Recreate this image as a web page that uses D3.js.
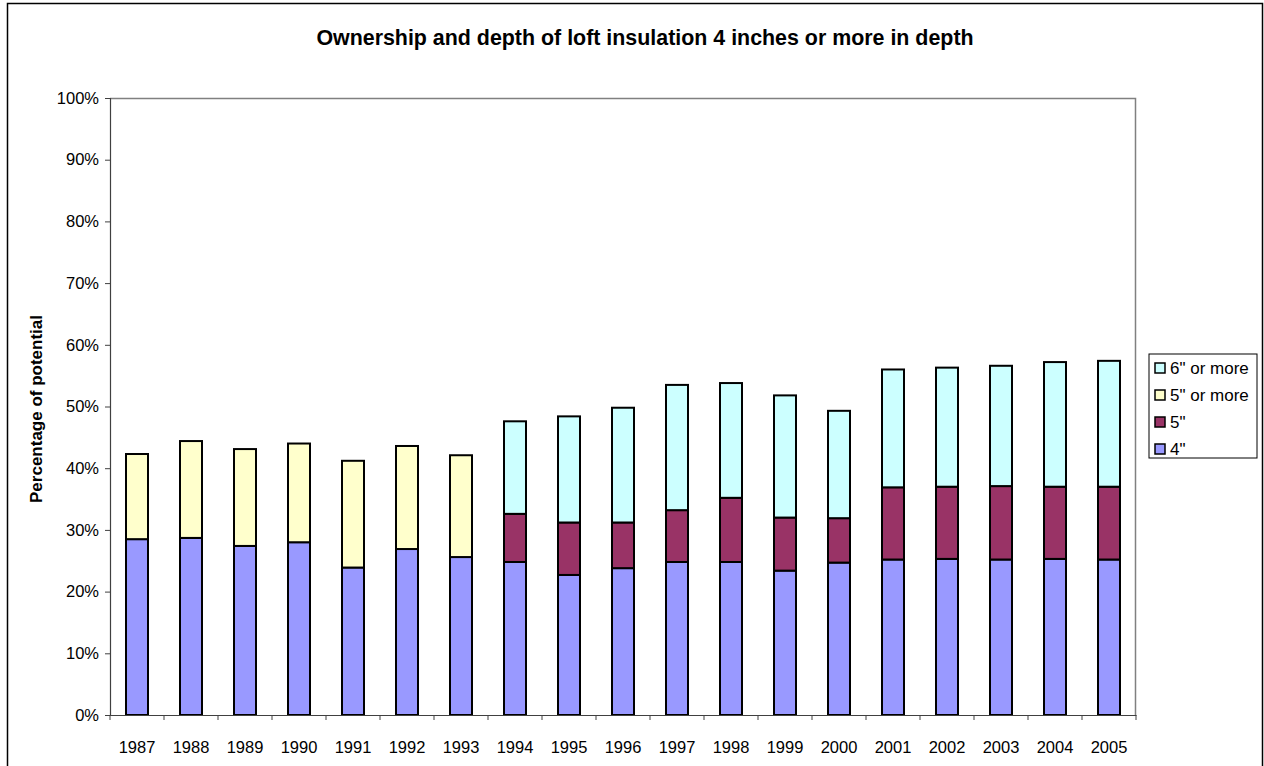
<!DOCTYPE html>
<html>
<head>
<meta charset="utf-8">
<script src="https://cdn.jsdelivr.net/npm/d3@7"></script>
<style>
  body { margin: 0; background: #fff; }
  text { font-family: Arial, "Liberation Sans", sans-serif; }
</style>
</head>
<body>
<div id="container"></div>
<script>
// datos (porcentaje de cada tramo)
const years = ['1987','1988','1989','1990','1991','1992','1993','1994','1995','1996',
               '1997','1998','1999','2000','2001','2002','2003','2004','2005'];
const depth4 = [28.5, 28.7, 27.4, 28.0, 23.9, 26.9, 25.6, 24.8, 22.7, 23.8,
                24.8, 24.8, 23.4, 24.7, 25.2, 25.3, 25.2, 25.3, 25.2];
const depth5 = [0, 0, 0, 0, 0, 0, 0, 7.8, 8.5, 7.4,
                8.4, 10.4, 8.6, 7.2, 11.7, 11.7, 11.9, 11.7, 11.8];
const depth5plus = [13.8, 15.7, 15.7, 16.0, 17.3, 16.7, 16.5, 0, 0, 0,
                    0, 0, 0, 0, 0, 0, 0, 0, 0];
const depth6plus = [0, 0, 0, 0, 0, 0, 0, 15.0, 17.2, 18.6,
                    20.3, 18.6, 19.8, 17.4, 19.1, 19.3, 19.5, 20.2, 20.4];
const yTicks = d3.range(0, 101, 10);

const WIDTH = 1264;
const HEIGHT = 766;
const PLOT = { LEFT: 110, RIGHT: 1136, TOP: 98, BOTTOM: 715 };

const series = [
  { key: '4"', values: depth4, color: '#9999ff' },
  { key: '5"', values: depth5, color: '#993366' },
  { key: '5" or more', values: depth5plus, color: '#ffffcc' },
  { key: '6" or more', values: depth6plus, color: '#ccffff' }
];

const table = years.map((y, i) => {
  const row = { year: y };
  series.forEach(s => { row[s.key] = s.values[i]; });
  return row;
});

const stacked = d3.stack().keys(series.map(s => s.key))(table);

const svg = d3.select('#container')
              .append('svg')
                .attr('width', WIDTH)
                .attr('height', HEIGHT);

// marco exterior
svg.append('path')
   .attr('d', `M7.5,${HEIGHT} V3.5 H1262.5 V${HEIGHT}`)
   .attr('fill', 'none')
   .attr('stroke', '#000')
   .attr('stroke-width', 1.5);

const x = d3.scaleBand()
            .domain(years)
            .range([PLOT.LEFT, PLOT.RIGHT]);

const y = d3.scaleLinear()
            .domain([0, 100])
            .range([PLOT.BOTTOM, PLOT.TOP]);

// borde gris del area de trazado (arriba y derecha)
svg.append('path')
   .attr('d', `M${PLOT.LEFT},${PLOT.TOP + 0.5} H${PLOT.RIGHT - 0.5} V${PLOT.BOTTOM}`)
   .attr('fill', 'none')
   .attr('stroke', '#808080')
   .attr('stroke-width', 1.5);

// barras apiladas
const barW = 22;
svg.append('g')
   .selectAll('g')
   .data(stacked)
   .join('g')
     .attr('fill', (d, i) => series[i].color)
   .selectAll('rect')
   .data(d => d.filter(p => p[1] - p[0] > 0))
   .join('rect')
     .attr('x', d => x(d.data.year) + (x.bandwidth() - barW) / 2)
     .attr('y', d => y(d[1]))
     .attr('width', barW)
     .attr('height', d => y(d[0]) - y(d[1]))
     .attr('stroke', '#000')
     .attr('stroke-width', 2);

// eje Y
const yAxis = svg.append('g')
   .attr('transform', `translate(${PLOT.LEFT},0)`)
   .call(d3.axisLeft(y)
           .tickValues(yTicks)
           .tickSize(5)
           .tickFormat(d => `${d}%`));
yAxis.selectAll('text')
     .attr('font-size', 16.5)
     .attr('font-family', 'Arial, "Liberation Sans", sans-serif')
     .attr('fill', '#000')
     .attr('dx', -3);
yAxis.selectAll('line').attr('stroke', '#404040');
yAxis.select('.domain').attr('stroke', '#404040').attr('stroke-width', 1.2);

// eje X con marcas en los limites de categoria
const xAxis = svg.append('g')
   .attr('transform', `translate(0,${PLOT.BOTTOM})`)
   .call(d3.axisBottom(x).tickSize(0).tickPadding(26));
xAxis.selectAll('text')
     .attr('font-size', 16.5)
     .attr('font-family', 'Arial, "Liberation Sans", sans-serif')
     .attr('fill', '#000');
xAxis.select('.domain').attr('stroke', '#404040').attr('stroke-width', 1.2);
xAxis.selectAll('.bound')
     .data(years.map(d => x(d)).concat([PLOT.RIGHT]))
     .join('line')
       .attr('class', 'bound')
       .attr('x1', d => d)
       .attr('x2', d => d)
       .attr('y1', 0)
       .attr('y2', 5)
       .attr('stroke', '#404040');

// titulo
svg.append('text')
   .attr('x', 645)
   .attr('y', 45)
   .attr('text-anchor', 'middle')
   .attr('font-weight', 'bold')
   .attr('font-size', 21.4)
   .text('Ownership and depth of loft insulation 4 inches or more in depth');

// titulo del eje Y
svg.append('text')
   .attr('transform', 'translate(42,409) rotate(-90)')
   .attr('text-anchor', 'middle')
   .attr('font-weight', 'bold')
   .attr('font-size', 17)
   .text('Percentage of potential');

// leyenda (orden inverso)
const legend = svg.append('g')
   .attr('transform', 'translate(1149,354)');
legend.append('rect')
   .attr('width', 108)
   .attr('height', 104)
   .attr('fill', '#fff')
   .attr('stroke', '#000')
   .attr('stroke-width', 1);
const items = legend.selectAll('g.item')
   .data(series.slice().reverse())
   .join('g')
     .attr('class', 'item')
     .attr('transform', (d, i) => `translate(6,${14 + i * 27})`);
items.append('rect')
   .attr('y', -5)
   .attr('width', 10)
   .attr('height', 10)
   .attr('fill', d => d.color)
   .attr('stroke', '#000')
   .attr('stroke-width', 1.5);
items.append('text')
   .attr('x', 15)
   .attr('y', 6)
   .attr('font-size', 17)
   .text(d => d.key);
</script>
</body>
</html>
